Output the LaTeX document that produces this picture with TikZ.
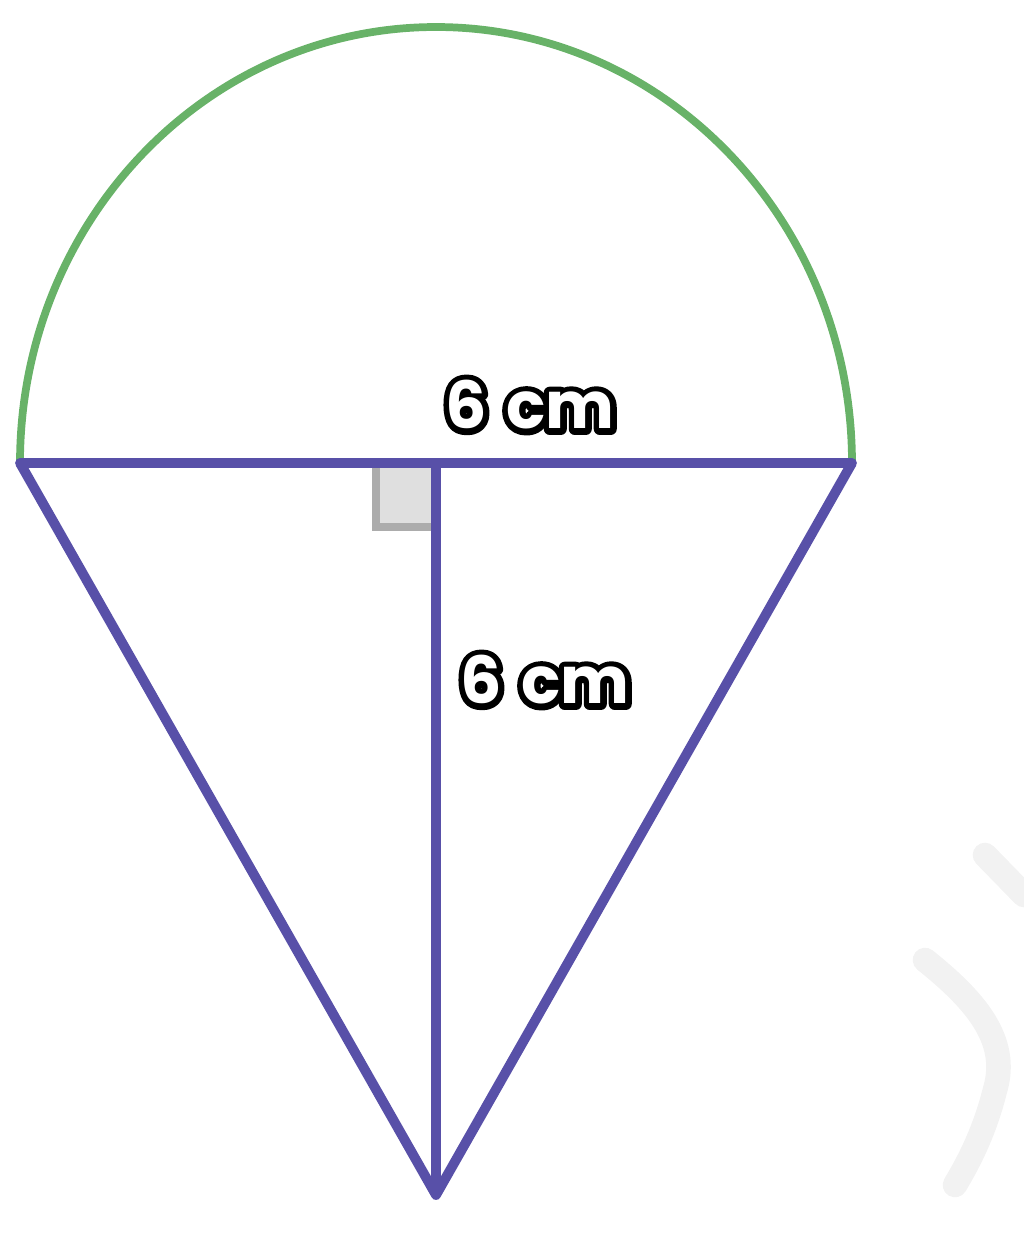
\documentclass[tikz,border=0pt]{standalone}
\usepackage{tikz}
\usepackage{fontspec}
\setmainfont{Poppins}
\definecolor{conebl}{RGB}{88,80,168}
\definecolor{scoopgr}{RGB}{104,178,104}
% outlined label: stroked copy below, white copy on top
\newcommand{\lbl}[1]{\rlap{\special{pdf:bcontent}\special{pdf:literal direct 1 Tr 3.4 w 1 j 0 0 0 RG}#1\special{pdf:literal direct 0 Tr}\special{pdf:econtent}}\textcolor{white}{#1}}

\begin{document}
\begin{tikzpicture}
\useasboundingbox (0,0) rectangle (10.24,-12.46);
\coordinate (L) at (0.20,-4.63);
\coordinate (R) at (8.52,-4.63);
\coordinate (O) at (4.36,-4.63);
\coordinate (A) at (4.36,-11.95);
% watermark
\draw[black!5, line width=7pt, line cap=round] (9.85,-8.55) -- (10.24,-8.95);
\draw[black!5, line width=7pt, line cap=round] (9.25,-9.60) .. controls (9.75,-10.0) and (10.1,-10.4) .. (9.95,-10.9) .. controls (9.85,-11.3) and (9.7,-11.6) .. (9.55,-11.85);
% right angle
\draw[gray!65, fill=gray!25, line width=2.5pt] (O) rectangle ++(-0.60,-0.64);
% scoop
\draw[scoopgr, line width=2.2pt, line cap=round] (R) arc[start angle=0,end angle=180,x radius=4.16,y radius=4.36];
% cone
\draw[conebl, line width=2.8pt, line join=round] (L) -- (A) -- (R);
\draw[conebl, line width=2.8pt, line cap=round] (L) -- (R);
\draw[conebl, line width=2.6pt] (O) -- (A);
\node[font=\bfseries\fontsize{18.5}{22}\selectfont] (d) at (5.30,-4.05) {\lbl{6\hspace{0.3em}cm}};
\node[font=\bfseries\fontsize{18.5}{22}\selectfont] (h) at (5.45,-6.80) {\lbl{6\hspace{0.3em}cm}};
\end{tikzpicture}
\end{document}
